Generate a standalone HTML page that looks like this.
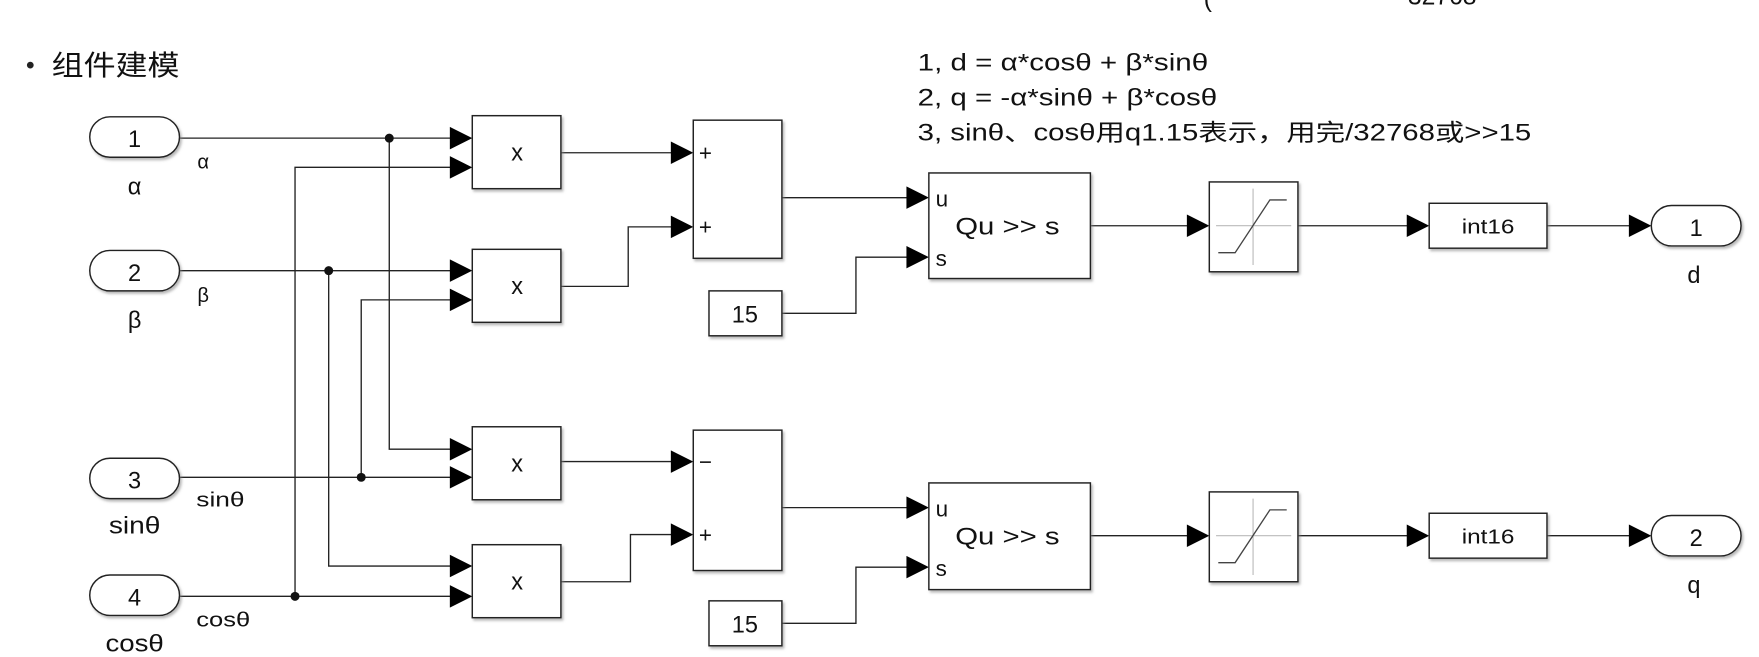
<!DOCTYPE html>
<html><head><meta charset="utf-8"><style>
html,body{margin:0;padding:0;background:#fff;width:1759px;height:657px;overflow:hidden}
svg{display:block}
text{font-family:"Liberation Sans","Noto Sans CJK SC",sans-serif;fill:#111}
</style></head><body>
<svg width="1759" height="657" viewBox="0 0 1568 585" preserveAspectRatio="none" xmlns="http://www.w3.org/2000/svg">
<defs>
<filter id="sh" x="-10%" y="-10%" width="130%" height="130%"><feDropShadow dx="1.5" dy="2" stdDeviation="1.2" flood-color="#888" flood-opacity="0.6"/></filter>
</defs>
<text x="1073" y="6" font-size="22">(</text>
<text x="1255" y="4" font-size="22">32768</text>
<circle cx="27" cy="58" r="3" fill="#222"/>
<text x="46" y="67" font-size="25" textLength="114" lengthAdjust="spacingAndGlyphs">组件建模</text>
<text x="818" y="63" font-size="21" textLength="259" lengthAdjust="spacingAndGlyphs">1, d = α*cosθ + β*sinθ</text>
<text x="818" y="94" font-size="21" textLength="267" lengthAdjust="spacingAndGlyphs">2, q = -α*sinθ + β*cosθ</text>
<text x="818" y="125" font-size="21" textLength="547" lengthAdjust="spacingAndGlyphs">3, sinθ、cosθ用q1.15表示，用完/32768或&gt;&gt;15</text>

<g stroke="#222" stroke-width="1.2" fill="none">
<path d="M160 123H402"/><path d="M347 123V400H402"/>
<path d="M160 531H402"/><path d="M263 531V149H402"/>
<path d="M160 241H402"/><path d="M293 241V504H402"/>
<path d="M160 425H402"/><path d="M322 425V267H402"/>
<path d="M500 136H600"/><path d="M500 255H560V202H600"/>
<path d="M500 411H600"/><path d="M500 518H562V476H600"/>
<path d="M697 176H810"/><path d="M697 452H810"/>
<path d="M697 279H763V229H810"/><path d="M697 555H763V505H810"/>
<path d="M972 201H1060"/><path d="M972 477H1060"/>
<path d="M1157 201H1256"/><path d="M1157 477H1256"/>
<path d="M1379 201H1454"/><path d="M1379 477H1454"/>
</g>
<g fill="#111">
<circle cx="347" cy="123" r="4"/><circle cx="263" cy="531" r="4"/>
<circle cx="293" cy="241" r="4"/><circle cx="322" cy="425" r="4"/>
</g>
<g fill="#000">
<path d="M401 113L421 123L401 133Z"/><path d="M401 139L421 149L401 159Z"/>
<path d="M401 231L421 241L401 251Z"/><path d="M401 257L421 267L401 277Z"/>
<path d="M401 390L421 400L401 410Z"/><path d="M401 415L421 425L401 435Z"/>
<path d="M401 494L421 504L401 514Z"/><path d="M401 521L421 531L401 541Z"/>
<path d="M598 126L618 136L598 146Z"/><path d="M598 192L618 202L598 212Z"/>
<path d="M598 401L618 411L598 421Z"/><path d="M598 466L618 476L598 486Z"/>
<path d="M808 166L828 176L808 186Z"/><path d="M808 219L828 229L808 239Z"/>
<path d="M808 442L828 452L808 462Z"/><path d="M808 495L828 505L808 515Z"/>
<path d="M1058 191L1078 201L1058 211Z"/><path d="M1058 467L1078 477L1058 487Z"/>
<path d="M1254 191L1274 201L1254 211Z"/><path d="M1254 467L1274 477L1254 487Z"/>
<path d="M1452 191L1472 201L1452 211Z"/><path d="M1452 467L1472 477L1452 487Z"/>
</g>
<g fill="#fff" stroke="#222" stroke-width="1.3" filter="url(#sh)">
<rect x="80" y="104" width="80" height="36" rx="18"/>
<rect x="80" y="223" width="80" height="36" rx="18"/>
<rect x="80" y="408" width="80" height="36" rx="18"/>
<rect x="80" y="512" width="80" height="36" rx="18"/>
<rect x="421" y="103" width="79" height="65"/>
<rect x="421" y="222" width="79" height="65"/>
<rect x="421" y="380" width="79" height="65"/>
<rect x="421" y="485" width="79" height="65"/>
<rect x="618" y="107" width="79" height="123"/>
<rect x="618" y="383" width="79" height="125"/>
<rect x="632" y="259" width="65" height="40"/>
<rect x="632" y="535" width="65" height="40"/>
<rect x="828" y="154" width="144" height="94"/>
<rect x="828" y="430" width="144" height="95"/>
<rect x="1078" y="162" width="79" height="80"/>
<rect x="1078" y="438" width="79" height="80"/>
<rect x="1274" y="181" width="105" height="40"/>
<rect x="1274" y="457" width="105" height="40"/>
<rect x="1472" y="183" width="80" height="36" rx="18"/>
<rect x="1472" y="459" width="80" height="36" rx="18"/>
</g>
<g fill="none" stroke-width="1">
<path d="M1084 201H1151M1117 168V236" stroke="#bbb"/>
<path d="M1086 225H1101L1132 178H1147" stroke="#444" stroke-width="1.2"/>
<path d="M1084 477H1151M1117 444V512" stroke="#bbb"/>
<path d="M1086 501H1101L1132 454H1147" stroke="#444" stroke-width="1.2"/>
</g>
<g font-size="21" text-anchor="middle">
<text x="120" y="131">1</text><text x="120" y="250">2</text>
<text x="120" y="435">3</text><text x="120" y="539">4</text>
<text x="1512" y="210">1</text><text x="1512" y="486">2</text>
<text x="120" y="173">α</text><text x="120" y="292">β</text>
<text x="120" y="475" textLength="46" lengthAdjust="spacingAndGlyphs">sinθ</text>
<text x="120" y="580" textLength="52" lengthAdjust="spacingAndGlyphs">cosθ</text>
<text x="1510" y="252">d</text><text x="1510" y="528">q</text>
<text x="461" y="143">x</text><text x="461" y="262">x</text>
<text x="461" y="420">x</text><text x="461" y="525">x</text>
<text x="664" y="287">15</text><text x="664" y="563">15</text>
<text x="898" y="209" textLength="93" lengthAdjust="spacingAndGlyphs">Qu &gt;&gt; s</text>
<text x="898" y="485" textLength="93" lengthAdjust="spacingAndGlyphs">Qu &gt;&gt; s</text>
</g>
<g font-size="18">
<text x="176" y="150">α</text><text x="176" y="269">β</text>
<text x="175" y="451" textLength="43" lengthAdjust="spacingAndGlyphs">sinθ</text>
<text x="175" y="558" textLength="48" lengthAdjust="spacingAndGlyphs">cosθ</text>
<text x="1303" y="208" textLength="47" lengthAdjust="spacingAndGlyphs">int16</text>
<text x="1303" y="484" textLength="47" lengthAdjust="spacingAndGlyphs">int16</text>
</g>
<g font-size="20">
<text x="623" y="143">+</text><text x="623" y="209">+</text>
<text x="623" y="418">−</text><text x="623" y="483">+</text>
<text x="834" y="184">u</text><text x="834" y="237">s</text>
<text x="834" y="460">u</text><text x="834" y="513">s</text>
</g>
</svg>
</body></html>
